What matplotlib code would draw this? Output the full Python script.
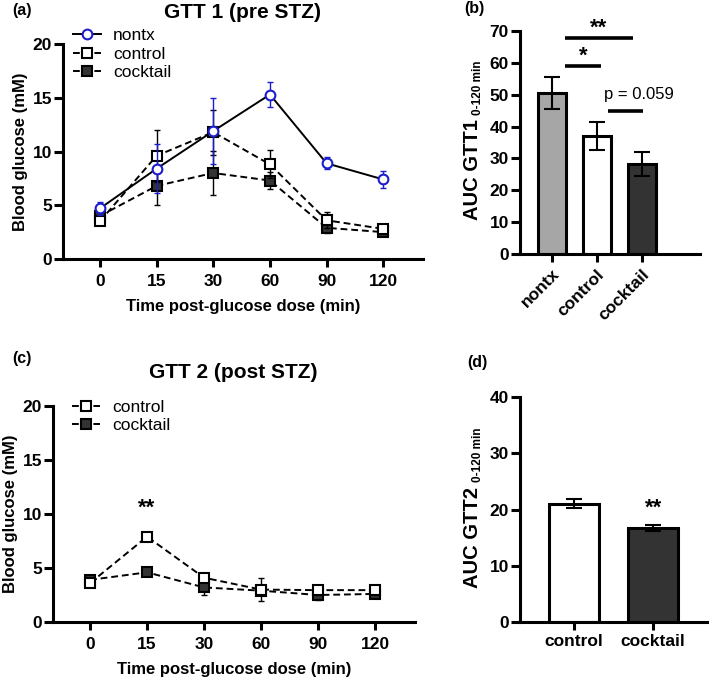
import numpy as np
import matplotlib
matplotlib.use('Agg')
import matplotlib.pyplot as plt
from matplotlib.lines import Line2D

plt.rcParams['font.family'] = ['Liberation Sans', 'DejaVu Sans']
plt.rcParams['font.weight'] = 'bold'
plt.rcParams['axes.spines.top'] = False
plt.rcParams['axes.spines.right'] = False

# ---- data ----
TIMES = ['0', '15', '30', '60', '90', '120']

# GTT 1 (pre STZ): mean, error
g1_nontx = [4.7, 8.4, 11.9, 15.3, 8.9, 7.4]
g1_nontx_err = [0.6, 2.3, 3.1, 1.2, 0.55, 0.75]
g1_control = [3.5, 9.6, 11.8, 8.8, 3.6, 2.8]
g1_control_err = [0.3, 2.4, 2.1, 1.3, 0.75, 0.3]
g1_cocktail = [4.0, 6.8, 8.0, 7.3, 2.9, 2.5]
g1_cocktail_err = [0.3, 1.8, 2.05, 0.8, 0.5, 0.25]

# GTT 2 (post STZ)
g2_control = [3.6, 7.9, 4.1, 3.0, 2.95, 2.95]
g2_control_err = [0.3, 0.3, 0.3, 1.1, 0.2, 0.2]
g2_cocktail = [3.9, 4.6, 3.2, 2.9, 2.5, 2.6]
g2_cocktail_err = [0.4, 0.2, 0.7, 0.3, 0.5, 0.4]

# AUC
auc1_groups = ['nontx', 'control', 'cocktail']
auc1_vals = [50.5, 37.0, 28.3]
auc1_err = [5.1, 4.3, 3.7]
auc2_groups = ['control', 'cocktail']
auc2_vals = [21.0, 16.7]
auc2_err = [0.8, 0.5]

BLUE = '#1c1ccf'
DARK = '#333333'
GREY = '#a6a6a6'

W, H = 709, 680
fig = plt.figure(figsize=(W / 100, H / 100), dpi=100)


def box(l, t, r, b):
    return [l / W, 1 - b / H, (r - l) / W, (b - t) / H]


def style(ax, ylen=6.5, xlen=6, xpad=5):
    for s in ('left', 'bottom'):
        ax.spines[s].set_linewidth(2.2)
    ax.tick_params(axis='y', length=ylen, width=2.2, labelsize=12.5, pad=1.5)
    ax.tick_params(axis='x', length=xlen, width=2.2, labelsize=12.5, pad=xpad)


def line_panel(ax, series, legend_anchor):
    x = np.arange(len(TIMES))
    handles = {}
    for lab, y, e, kw in series:
        mk = dict(color='black', marker=kw['marker'], markerfacecolor=kw['mfc'],
                  markeredgecolor=kw['mec'], markersize=7, markeredgewidth=1.5,
                  linewidth=1.4, linestyle=kw['ls'])
        ax.errorbar(x, y, yerr=e, fmt='none', ecolor=kw['ec'], capsize=2.5,
                    elinewidth=1.0, capthick=1.0, clip_on=False)
        ax.plot(x, y, clip_on=False, **mk)
        handles[lab] = Line2D([], [], **mk)
    ax.set_xticks(x)
    ax.set_xticklabels(TIMES)
    ax.set_xlim(-0.65, 5.7)
    ax.set_ylim(0, 20)
    ax.set_yticks([0, 5, 10, 15, 20])
    ax.set_ylabel('Blood glucose (mM)', fontsize=12, fontweight='bold', labelpad=3)
    ax.set_xlabel('Time post-glucose dose (min)', fontsize=12, fontweight='bold', labelpad=7)
    names = [n for n in ['nontx', 'control', 'cocktail'] if n in handles]
    ax.legend([handles[n] for n in names], names,
              loc='upper left', bbox_to_anchor=legend_anchor, frameon=False,
              borderpad=0, borderaxespad=0, handlelength=1.6,
              handletextpad=0.7, labelspacing=0.2, numpoints=1,
              prop={'size': 12.5, 'weight': 'normal'})
    style(ax)


DASH = (0, (3.5, 2))
ctrl_kw = dict(marker='s', mfc='white', mec='black', ls=DASH, ec='black')
cock_kw = dict(marker='s', mfc=DARK, mec='black', ls=DASH, ec='black')
nontx_kw = dict(marker='o', mfc='white', mec=BLUE, ls='-', ec=BLUE)

# (a)
ax_a = fig.add_axes(box(63, 44, 423, 259))
line_panel(ax_a, [
    ('cocktail', g1_cocktail, g1_cocktail_err, cock_kw),
    ('control', g1_control, g1_control_err, ctrl_kw),
    ('nontx', g1_nontx, g1_nontx_err, nontx_kw),
], (0.028, 1.075))

# (c)
ax_c = fig.add_axes(box(53, 406, 415, 622))
line_panel(ax_c, [
    ('cocktail', g2_cocktail, g2_cocktail_err, cock_kw),
    ('control', g2_control, g2_control_err, ctrl_kw),
], (0.052, 1.03))
ax_c.text(1, 10.5, '**', ha='center', va='center', fontsize=16, fontweight='bold')


def bar_panel(ax, groups, vals, errs, colors, width):
    x = np.arange(len(groups))
    ax.bar(x, vals, width, color=colors, edgecolor='black', linewidth=2.2, zorder=2)
    ax.errorbar(x, vals, yerr=errs, fmt='none', ecolor='black', elinewidth=1.5,
                capsize=6, capthick=1.5, zorder=3)
    ax.set_xticks(x)
    style(ax, xpad=3)
    return x


# (b)
ax_b = fig.add_axes(box(520, 31, 700, 254))
bar_panel(ax_b, auc1_groups, auc1_vals, auc1_err, [GREY, 'white', DARK], 0.62)
ax_b.set_xticklabels(auc1_groups, rotation=45, ha='right', rotation_mode='anchor',
                     fontsize=12.5, fontweight='bold')
ax_b.set_xlim(-0.71, 3.3)
ax_b.set_ylim(0, 70)
ax_b.set_yticks(np.arange(0, 71, 10))
# significance bars
for x0, x1, y, txt, fs, fw in [(0.29, 1.09, 59, '*', 16, 'bold'),
                               (0.29, 1.80, 67.7, '**', 16, 'bold'),
                               (1.24, 2.02, 44.8, 'p = 0.059', 12, 'normal')]:
    ax_b.plot([x0, x1], [y, y], color='black', lw=2.6, solid_capstyle='butt', clip_on=False)
    dy = 3.2 if fw == 'bold' else 5.3
    ax_b.text((x0 + x1) / 2 if fw == 'bold' else 1.95, y + dy, txt, ha='center', va='center',
              fontsize=fs, fontweight=fw)

# (d)
ax_d = fig.add_axes(box(520, 397, 707, 622))
bar_panel(ax_d, auc2_groups, auc2_vals, auc2_err, ['white', DARK], 0.63)
ax_d.set_xticklabels(auc2_groups, fontsize=12.5, fontweight='bold')
ax_d.set_xlim(-0.68, 1.68)
ax_d.set_ylim(0, 40)
ax_d.set_yticks([0, 10, 20, 30, 40])
ax_d.text(1, 20.3, '**', ha='center', va='center', fontsize=16, fontweight='bold')

# AUC y labels with subscript
for name, yc_main, yc_sub in [('AUC GTT1', 170, 88), ('AUC GTT2', 537, 455)]:
    fig.text(472 / W, 1 - yc_main / H, name, rotation=90, ha='center', va='center',
             fontsize=14.5, fontweight='bold')
    fig.text(478 / W, 1 - yc_sub / H, '0-120 min', rotation=90, ha='center', va='center',
             fontsize=8.5, fontweight='bold')

# titles and panel labels
fig.text(242 / W, 1 - 12 / H, 'GTT 1 (pre STZ)', ha='center', va='center', fontsize=15, fontweight='bold')
fig.text(233 / W, 1 - 372 / H, 'GTT 2 (post STZ)', ha='center', va='center', fontsize=15, fontweight='bold')
for lab, px, py in [('(a)', 22, 10), ('(b)', 474, 9), ('(c)', 22, 358), ('(d)', 477, 363)]:
    fig.text(px / W, 1 - py / H, lab, ha='center', va='center', fontsize=11.5, fontweight='bold')

fig.savefig('out.png', dpi=100)
